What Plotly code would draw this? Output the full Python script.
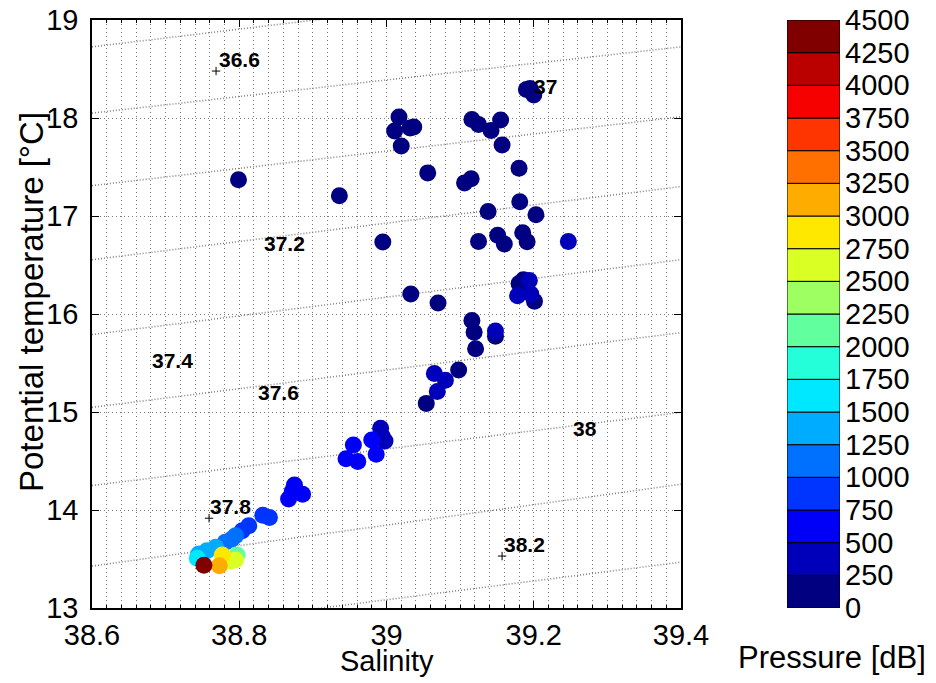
import plotly.graph_objects as go

# ---------------- data ----------------
salinity = [38.799, 38.936, 39.017, 39.011, 39.032, 39.037, 39.020, 39.056, 39.106, 39.115,
            39.116, 39.125, 39.142, 39.155, 39.157, 39.180, 39.181, 39.138, 39.203, 38.995,
            39.125, 39.151, 39.160, 39.185, 39.191, 39.033, 39.070, 39.186, 39.180, 39.201,
            39.116, 39.119, 39.121, 39.148, 39.098, 39.054, 39.190, 39.195, 39.200,
            39.247, 39.194, 39.178, 39.196, 39.148, 39.065, 39.080, 39.069,
            38.992, 38.994, 38.998, 38.980, 38.986, 38.955, 38.945, 38.961,
            38.875, 38.872, 38.886, 38.867, 38.832, 38.841, 38.813, 38.804,
            38.795, 38.790, 38.781, 38.768, 38.756, 38.745, 38.743,
            38.797, 38.795, 38.788, 38.777, 38.773, 38.752]
theta = [17.369, 17.206, 18.010, 17.868, 17.898, 17.908, 17.715, 17.440, 17.338, 17.379,
         17.985, 17.934, 17.873, 17.980, 17.725, 17.488, 17.145, 17.046, 17.012, 16.734,
         16.740, 16.803, 16.714, 16.829, 16.737, 16.205, 16.113, 16.350, 16.310, 16.131,
         15.933, 15.814, 15.645, 15.773, 15.429, 15.088, 18.290, 18.300, 18.235,
         16.740, 16.343, 16.187, 16.204, 15.826, 15.393, 15.324, 15.210,
         14.833, 14.754, 14.704, 14.714, 14.568, 14.663, 14.524, 14.494,
         14.256, 14.190, 14.161, 14.112, 13.947, 13.923, 13.839, 13.788,
         13.738, 13.704, 13.670, 13.619, 13.585, 13.552, 13.507,
         13.541, 13.490, 13.480, 13.541, 13.430, 13.437]
pressure = [100] * 39 + \
           [350] * 8 + \
           [450, 450, 450, 500, 550, 550, 600, 600,
            650, 680, 700, 700, 800, 820, 900, 950,
            1050, 1100, 1150, 1300, 1400, 1450, 1550,
            2100, 2600, 2700, 2900, 3100, 4400]

# density contours: temperature at S = 38.6 (left) and S = 39.4 (right)
contour_s_ends = [38.6, 39.4]
contour_t_left = [18.726, 18.05, 17.31, 16.554, 15.79, 15.047, 14.25, 13.428, 12.70]
contour_t_right = [19.45, 18.726, 18.013, 17.30, 16.554, 15.81, 14.996, 14.263, 13.468]

contour_labels = ["36.6", "37", "37.2", "37.4", "37.6", "37.8", "38", "38.2"]
label_s = [38.800, 39.216, 38.862, 38.710, 38.853, 38.788, 39.270, 39.187]
label_t = [18.596, 18.319, 16.719, 15.530, 15.200, 14.037, 14.828, 13.649]
plus_s = [38.7685, 38.759, 39.157]
plus_t = [18.479, 13.916, 13.530]

pressure_levels = [0, 250, 500, 750, 1000, 1250, 1500, 1750, 2000, 2250,
                   2500, 2750, 3000, 3250, 3500, 3750, 4000, 4250, 4500]
jet18 = ["#000080", "#0000BB", "#0000F8", "#0035FF", "#0070FF", "#00ACFF",
         "#00E8FF", "#25FFD9", "#61FF9D", "#9DFF61", "#D9FF25", "#FFE800",
         "#FFAC00", "#FF7000", "#FF3500", "#F70000", "#BB0000", "#800000"]

# ---------------- figure ----------------
# the page body has an 8px margin, so figure pixels = page pixels - 8
OFF = 8
W, H = 936 - OFF, 683 - OFF
plot_l, plot_r, plot_t, plot_b = 92 - OFF, 681 - OFF, 20 - OFF, 608 - OFF
cb_left, cb_right = 787 - OFF, 840 - OFF
ml, mr, mt, mb = plot_l, W - cb_right, plot_t, H - plot_b
pw = W - ml - mr
ph = H - mt - mb


def px2paper_x(px):
    return (px - OFF - ml) / pw


def px2paper_y(py):
    return (H - mb - (py - OFF)) / ph


n = len(jet18)
colorscale = []
for k, c in enumerate(jet18):
    colorscale.append([k / n, c])
    colorscale.append([(k + 1) / n, c])

fig = go.Figure()

# contour lines
cx, cy = [], []
for tl, tr in zip(contour_t_left, contour_t_right):
    cx += [contour_s_ends[0], contour_s_ends[1], None]
    cy += [tl, tr, None]
fig.add_trace(go.Scatter(x=cx, y=cy, mode="lines",
                         line=dict(color="#858585", width=1.6, dash="1px,2px"),
                         hoverinfo="skip", showlegend=False))

# label '+' markers
fig.add_trace(go.Scatter(x=plus_s, y=plus_t, mode="markers",
                         marker=dict(symbol="cross-thin", size=6,
                                     line=dict(color="black", width=1)),
                         hoverinfo="skip", showlegend=False))

# data points
fig.add_trace(go.Scatter(x=salinity, y=theta, mode="markers",
                         marker=dict(size=17, color=pressure, colorscale=colorscale,
                                     cmin=pressure_levels[0], cmax=pressure_levels[-1],
                                     showscale=False, line=dict(width=0), opacity=1),
                         showlegend=False))

# contour labels
for txt, s, t in zip(contour_labels, label_s, label_t):
    fig.add_annotation(x=s, y=t, xref="x", yref="y", text="<b>%s</b>" % txt,
                       showarrow=False, xanchor="center", yanchor="middle",
                       font=dict(size=21, color="black", family="Liberation Sans"))

# colour bar drawn as stacked bars
fig.add_trace(go.Bar(x=[0] * n,
                     y=[pressure_levels[k + 1] - pressure_levels[k] for k in range(n)],
                     base=pressure_levels[:-1], width=1,
                     marker=dict(color=jet18, line=dict(color="black", width=1)),
                     xaxis="x2", yaxis="y2", hoverinfo="skip", showlegend=False))

grid_col = "#7a7a7a"
tick_font = dict(family="Liberation Sans", size=29, color="black")

fig.update_layout(
    width=W, height=H,
    margin=dict(l=ml, r=mr, t=mt, b=mb, pad=0, autoexpand=False),
    paper_bgcolor="white", plot_bgcolor="white",
    font=dict(family="Liberation Sans", color="black"),
    barmode="overlay",
    xaxis=dict(domain=[0, (plot_r - plot_l) / pw], range=[38.6, 39.4], dtick=0.2,
               tick0=38.6, showgrid=True, gridcolor=grid_col, griddash="1px,3px", gridwidth=1,
               zeroline=False, showline=True, linecolor="black", linewidth=1.5,
               mirror="ticks", ticks="inside", ticklen=7, tickcolor="black",
               tickfont=tick_font, automargin=False, ticklabeloverflow="allow",
               minor=dict(dtick=0.02, tick0=38.6, showgrid=True, gridcolor=grid_col,
                          griddash="1px,3px", gridwidth=1, ticks="inside", ticklen=3,
                          tickcolor="black")),
    yaxis=dict(domain=[0, 1], range=[13, 19], dtick=1, showgrid=True,
               gridcolor=grid_col, griddash="1px,3px", gridwidth=1, zeroline=False,
               showline=True, linecolor="black", linewidth=1.5, mirror="ticks",
               ticks="inside", ticklen=7, tickcolor="black", tickfont=tick_font,
               ticklabelstandoff=6, automargin=False, ticklabeloverflow="allow"),
    xaxis2=dict(domain=[(cb_left - plot_l) / pw, 1], range=[-0.5, 0.5],
                visible=False, anchor="y2", automargin=False),
    yaxis2=dict(domain=[0, 1], range=[pressure_levels[0], pressure_levels[-1]],
                anchor="x2", side="right", tickvals=pressure_levels,
                ticktext=[str(v) for v in pressure_levels], ticks="",
                showgrid=False, zeroline=False, showline=False, tickfont=tick_font,
                ticklabelstandoff=4, automargin=False, ticklabeloverflow="allow"),
)

fig.add_annotation(x=px2paper_x(387), y=px2paper_y(661), xref="paper", yref="paper",
                   text="Salinity", showarrow=False, xanchor="center", yanchor="middle",
                   font=dict(size=29, family="Liberation Sans"))
fig.add_annotation(x=px2paper_x(31), y=px2paper_y(302), xref="paper", yref="paper",
                   text="Potential temperature [°C]", showarrow=False, textangle=-90,
                   xanchor="center", yanchor="middle",
                   font=dict(size=33, family="Liberation Sans"))
fig.add_annotation(x=px2paper_x(832), y=px2paper_y(657), xref="paper", yref="paper",
                   text="Pressure [dB]", showarrow=False, xanchor="center", yanchor="middle",
                   font=dict(size=31, family="Liberation Sans"))

fig.write_html("out.html")
